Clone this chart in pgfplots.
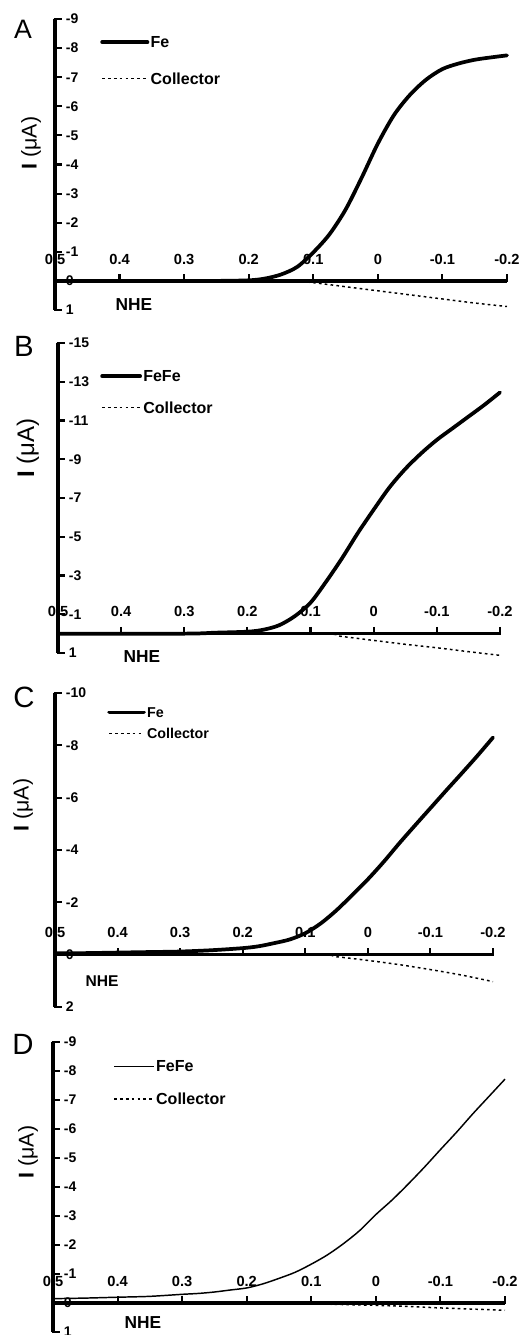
\documentclass[border=0pt]{standalone}
\usepackage{pgfplots}
\pgfplotsset{compat=1.18}
\usepackage{fontspec}
\setmainfont{Liberation Sans}

\pgfplotsset{
  panel/.style={
    scale only axis,
    x dir=reverse, y dir=reverse,
    xmin=-0.2, xmax=0.5,
    axis x line=middle, axis y line=left,
    axis line style={-, line width=2.4pt, black},
    every inner x axis line/.append style={-},
    every outer y axis line/.append style={-},
    every outer x axis line/.append style={-},
    every inner y axis line/.append style={-},
    hide obscured x ticks=false, hide obscured y ticks=false,
    tick align=center,
    major tick length=6pt,
    tick style={line width=1.6pt, black},
    x tick style={yshift=2pt},
    y tick style={xshift=2pt},
    xtick={0.5,0.4,0.3,0.2,0.1,0,-0.1,-0.2},
    xticklabels={0.5,0.4,0.3,0.2,0.1,0,-0.1,-0.2},
    xticklabel style={anchor=center, yshift=19.3pt, inner sep=0pt,
      font=\bfseries\fontsize{11}{12}\selectfont},
    yticklabel style={anchor=west, xshift=11pt, inner sep=0pt,
      font=\bfseries\fontsize{10.5}{12}\selectfont},
    legend cell align=left,
    legend style={draw=none, fill=none, anchor=north west, inner sep=0pt,
      nodes={inner sep=1pt, text depth=0pt},
      /tikz/every even column/.append style={column sep=0pt},
      font=\bfseries\fontsize{12}{12}\selectfont},
    clip=false,
  },
  fe/.style={black, line width=2.8pt, smooth, tension=0.5, line join=round, line cap=round},
  coll/.style={black, line width=1.1pt, smooth, tension=0.5, dash pattern=on 2pt off 2.4pt},
}

\begin{document}
\begin{tikzpicture}
\useasboundingbox (0pt,0pt) rectangle (394.5pt,-1001.25pt);

% ---------------- A
\begin{axis}[panel,
  at={(41.25pt,-232.5pt)}, anchor=south west,
  width=339pt, height=218.25pt,
  ymin=-9, ymax=1,
  ytick={-9,-8,-7,-6,-5,-4,-3,-2,-1,0,1},
  yticklabels={-9,-8,-7,-6,-5,-4,-3,-2,-1,0,1},
  legend style={at={(axis description cs:0.0996,0.945)}, row sep=17pt},
  legend image code/.code={\draw[#1] (0pt,0pt) -- (34pt,0pt);},
]
\addplot[fe] coordinates {
  (0.5,0) (0.4,0) (0.3,0) (0.25,0) (0.2,-0.02) (0.175,-0.08) (0.15,-0.22)
  (0.125,-0.48) (0.1,-0.98) (0.075,-1.6) (0.05,-2.45) (0.025,-3.55) (0,-4.72)
  (-0.025,-5.7) (-0.05,-6.4) (-0.075,-6.92) (-0.1,-7.28) (-0.125,-7.47)
  (-0.15,-7.6) (-0.175,-7.68) (-0.2,-7.75)
};
\addlegendentry{Fe}
\addplot[coll] coordinates {
  (0.5,0) (0.2,0) (0.125,0.02) (0.1,0.06) (0.05,0.2) (0,0.34) (-0.05,0.48)
  (-0.1,0.62) (-0.15,0.76) (-0.2,0.88)
};
\addlegendentry{Collector}
\end{axis}

% ---------------- B
\begin{axis}[panel,
  at={(43.5pt,-489.75pt)}, anchor=south west,
  width=331.5pt, height=232.5pt,
  ymin=-15, ymax=1,
  ytick={-15,-13,-11,-9,-7,-5,-3,-1,1},
  yticklabels={-15,-13,-11,-9,-7,-5,-3,-1,1},
  legend style={at={(axis description cs:0.095,0.916)}, row sep=13pt},
  legend image code/.code={\draw[#1] (0pt,0pt) -- (28.5pt,0pt);},
]
\addplot[fe] coordinates {
  (0.5,0) (0.3,0) (0.25,-0.05) (0.2,-0.1) (0.175,-0.2) (0.15,-0.43)
  (0.125,-0.9) (0.1,-1.6) (0.075,-2.7) (0.05,-3.9) (0.025,-5.2) (0,-6.4)
  (-0.025,-7.55) (-0.05,-8.5) (-0.075,-9.3) (-0.1,-10.0) (-0.125,-10.6)
  (-0.15,-11.2) (-0.175,-11.8) (-0.2,-12.45)
};
\addlegendentry{FeFe}
\addplot[coll] coordinates {
  (0.5,0) (0.1,0) (0.05,0.15) (0,0.35) (-0.05,0.55) (-0.1,0.73)
  (-0.15,0.93) (-0.2,1.12)
};
\addlegendentry{Collector}
\end{axis}

% ---------------- C
\begin{axis}[panel,
  at={(41.25pt,-755.25pt)}, anchor=south west,
  width=328.5pt, height=235.5pt,
  ymin=-10, ymax=2,
  ytick={-10,-8,-6,-4,-2,0,2},
  yticklabels={-10,-8,-6,-4,-2,0,2},
  legend style={at={(axis description cs:0.119,0.959)}, row sep=6.4pt,
    font=\bfseries\fontsize{10.7}{11}\selectfont},
  legend image code/.code={\draw[#1] (0pt,0pt) -- (26pt,0pt);},
]
\addplot[fe] coordinates {
  (0.5,-0.05) (0.45,-0.06) (0.4,-0.08) (0.35,-0.1) (0.3,-0.12) (0.25,-0.17)
  (0.2,-0.25) (0.175,-0.32) (0.15,-0.44) (0.125,-0.58) (0.1,-0.82)
  (0.075,-1.2) (0.05,-1.7) (0.025,-2.28) (0,-2.88) (-0.025,-3.54)
  (-0.05,-4.25) (-0.075,-4.93) (-0.1,-5.6) (-0.125,-6.27) (-0.15,-6.93)
  (-0.175,-7.6) (-0.2,-8.3)
};
\addlegendentry{Fe}
\addplot[coll] coordinates {
  (0.5,0) (0.1,0) (0.05,0.08) (0,0.22) (-0.05,0.38) (-0.1,0.57)
  (-0.15,0.78) (-0.2,1.03)
};
\addlegendentry{Collector}
\end{axis}

% ---------------- D
\begin{axis}[panel,
  at={(39.75pt,-999pt)}, anchor=south west,
  width=339pt, height=217.5pt,
  ymin=-9, ymax=1,
  ytick={-9,-8,-7,-6,-5,-4,-3,-2,-1,0,1},
  yticklabels={-9,-8,-7,-6,-5,-4,-3,-2,-1,0,1},
  legend style={at={(axis description cs:0.133,0.941)}, row sep=14pt},
  legend image code/.code={\draw[#1] (0pt,0pt) -- (30pt,0pt);},
]
\addplot[black, line width=1.1pt, smooth, tension=0.5, line join=round] coordinates {
  (0.5,-0.15) (0.45,-0.17) (0.4,-0.2) (0.35,-0.23) (0.3,-0.3) (0.275,-0.33)
  (0.25,-0.38) (0.225,-0.45) (0.2,-0.52) (0.175,-0.66) (0.15,-0.85)
  (0.125,-1.06) (0.1,-1.34) (0.075,-1.66) (0.05,-2.05) (0.025,-2.5)
  (0,-3.05) (-0.025,-3.55) (-0.05,-4.1) (-0.075,-4.68) (-0.1,-5.29)
  (-0.125,-5.89) (-0.15,-6.52) (-0.175,-7.12) (-0.2,-7.72)
};
\addlegendentry{FeFe}
\addplot[coll] coordinates {
  (0.5,0) (0.2,0.01) (0.1,0.03) (0,0.08) (-0.05,0.12) (-0.1,0.17)
  (-0.15,0.21) (-0.2,0.25)
};
\addlegendentry{Collector}
\end{axis}

% panel letters, axis titles
\node[font=\fontsize{20}{20}\selectfont] at (17.25pt,-21.75pt) {A};
\node[font=\fontsize{22}{22}\selectfont] at (18pt,-259.5pt) {B};
\node[font=\fontsize{22}{22}\selectfont] at (18pt,-522.75pt) {C};
\node[font=\fontsize{22}{22}\selectfont] at (17.25pt,-783pt) {D};

\node[rotate=90, font=\fontsize{16}{16}\selectfont] at (23.25pt,-107.25pt) {\textbf{I} (μA)};
\node[rotate=90, font=\fontsize{18}{18}\selectfont] at (21pt,-336pt) {\textbf{I} (μA)};
\node[rotate=90, font=\fontsize{16}{16}\selectfont] at (17.25pt,-603.75pt) {\textbf{I} (μA)};
\node[rotate=90, font=\fontsize{16}{16}\selectfont] at (21pt,-864pt) {\textbf{I} (μA)};

\node[font=\bfseries\fontsize{13}{13}\selectfont] at (100.5pt,-228.75pt) {NHE};
\node[font=\bfseries\fontsize{13}{13}\selectfont] at (106.5pt,-492.75pt) {NHE};
\node[font=\bfseries\fontsize{11.7}{12}\selectfont] at (76.5pt,-735.75pt) {NHE};
\node[font=\bfseries\fontsize{13}{13}\selectfont] at (107.25pt,-992.25pt) {NHE};
\end{tikzpicture}
\end{document}
